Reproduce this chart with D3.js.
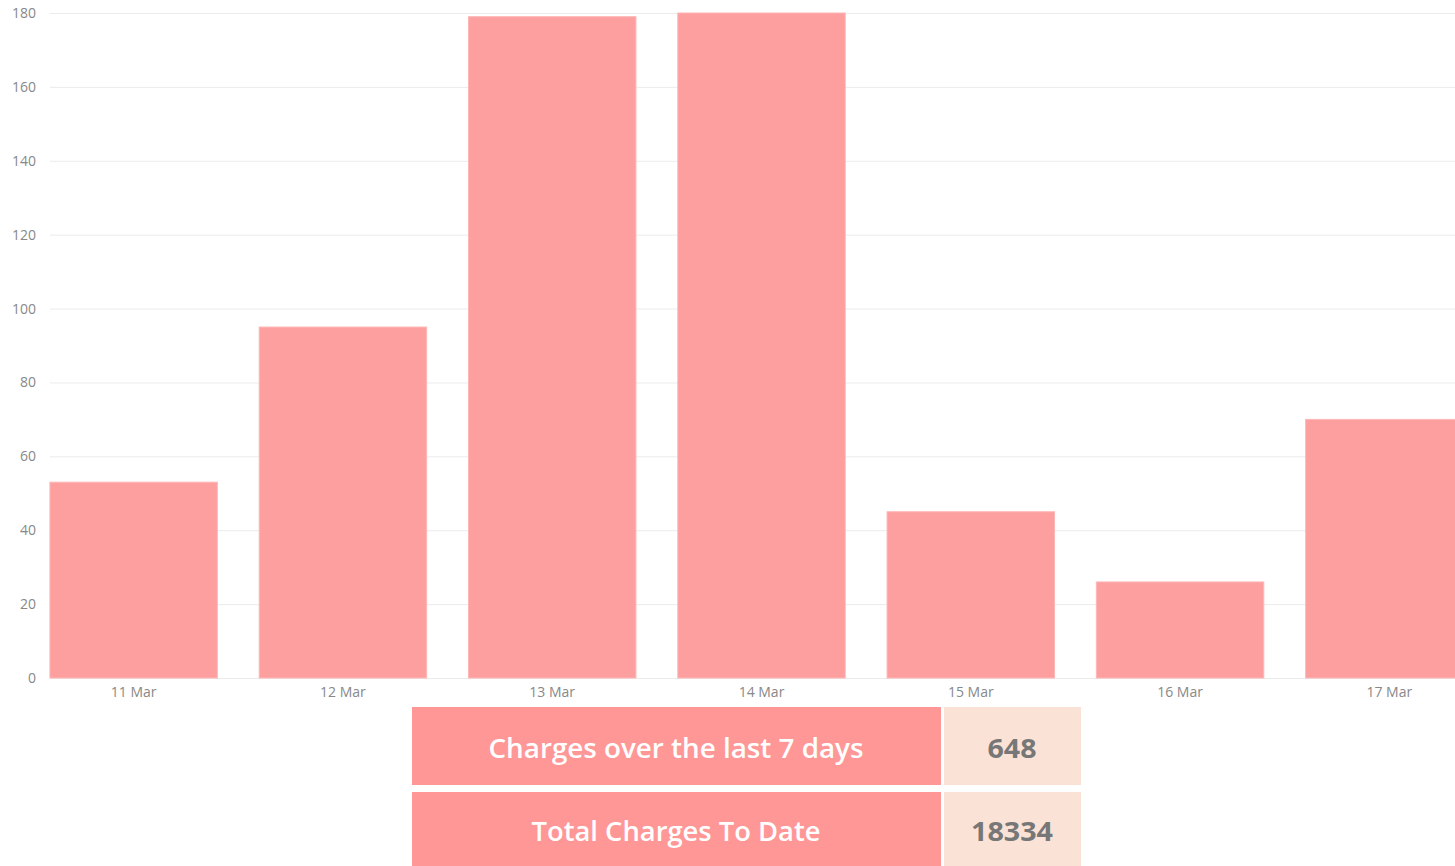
<!DOCTYPE html>
<html lang="en">
<head>
<meta charset="utf-8">
<title>Charges</title>
<style>
body { margin: 0; background: #fff; }
svg text { font-family: "Open Sans", sans-serif; }
</style>
</head>
<body>
<script src="https://cdn.jsdelivr.net/npm/d3@7"></script>
<script>
var days = ["11 Mar", "12 Mar", "13 Mar", "14 Mar", "15 Mar", "16 Mar", "17 Mar"];
var charges = [53, 95, 179, 180, 45, 26, 70];
var yTicks = [0, 20, 40, 60, 80, 100, 120, 140, 160, 180];
var summaryLabels = ["Charges over the last 7 days", "Total Charges To Date"];
var summaryValues = [648, 18334];

var W = 1455, H = 866;
var svg = d3.select("body").append("svg")
  .attr("width", W).attr("height", H);

var x = d3.scaleBand().domain(days).range([29, 1494])
  .paddingInner(0.2).paddingOuter(0.1);
var y = d3.scaleLinear().domain([0, 180]).range([678, 13]).clamp(true);

// grid
svg.append("g").selectAll("line")
  .data(yTicks).enter().append("line")
  .attr("x1", 50).attr("x2", W)
  .attr("y1", function(d) { return y(d) + 0.5; })
  .attr("y2", function(d) { return y(d) + 0.5; })
  .style("stroke", "#ebebeb").style("stroke-width", 1);

// y labels
svg.append("g").selectAll("text")
  .data(yTicks).enter().append("text")
  .attr("x", 36).attr("y", function(d) { return y(d) + 5; })
  .attr("text-anchor", "end")
  .style("font-size", "14px").style("fill", "#888")
  .text(String);

// bars
svg.append("g").selectAll("rect")
  .data(charges).enter().append("rect")
  .attr("x", function(d, i) { return x(days[i]); })
  .attr("y", function(d) { return y(d); })
  .attr("width", x.bandwidth())
  .attr("height", function(d) { return y(0) - y(d); })
  .style("fill", "#fd9f9f")
  .style("stroke", "#ffb6b6").style("stroke-width", 1);

// x labels
svg.append("g").selectAll("text")
  .data(days).enter().append("text")
  .attr("x", function(d) { return x(d) + x.bandwidth() / 2; })
  .attr("y", 697)
  .attr("text-anchor", "middle")
  .style("font-size", "14px").style("fill", "#888")
  .text(String);

// summary table
var rowY = [707, 792], rowH = [78, 80], textY = [51, 49];
var rows = svg.append("g").selectAll("g")
  .data(summaryLabels).enter().append("g")
  .attr("transform", function(d, i) { return "translate(0," + rowY[i] + ")"; });

rows.append("rect")
  .attr("x", 412).attr("width", 529)
  .attr("height", function(d, i) { return rowH[i]; })
  .style("fill", "#ff9797");
rows.append("rect")
  .attr("x", 944).attr("width", 137)
  .attr("height", function(d, i) { return rowH[i]; })
  .style("fill", "#fae3d6");
rows.append("text")
  .attr("x", 676).attr("y", function(d, i) { return textY[i]; })
  .attr("text-anchor", "middle")
  .style("font-size", "27px").style("font-weight", "600")
  .style("fill", "#fff")
  .attr("textLength", function(d, i) { return i === 0 ? 375 : 289; })
  .attr("lengthAdjust", "spacingAndGlyphs")
  .text(String);
rows.append("text")
  .attr("x", 1012).attr("y", function(d, i) { return textY[i]; })
  .attr("text-anchor", "middle")
  .style("font-size", "27px").style("font-weight", "700")
  .style("fill", "#777")
  .attr("textLength", function(d, i) { return i === 0 ? 49 : 82; })
  .attr("lengthAdjust", "spacingAndGlyphs")
  .text(function(d, i) { return summaryValues[i]; });
</script>
</body>
</html>
